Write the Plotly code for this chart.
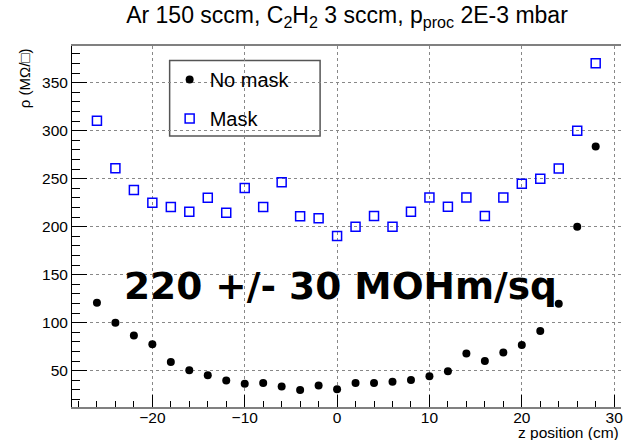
import plotly.graph_objects as go

z_cm = [-26, -24, -22, -20, -18, -16, -14, -12, -10, -8, -6, -4, -2, 0,
        2, 4, 6, 8, 10, 12, 14, 16, 18, 20, 22, 24, 26, 28]
no_mask = [120.7, 100, 86.6, 77.6, 59, 50.3, 45.2, 39.7, 36.2, 37.2, 33.4, 29.7, 34.5, 30.7,
           37.2, 37.2, 38.3, 40.3, 44.1, 49.3, 67.9, 60, 69, 76.6, 91.4, 119.7, 200, 283.4]
mask = [310.4, 260.8, 238.2, 225, 220.5, 215.6, 230.2, 214.6, 240.3, 220.5, 246.2, 210.8, 208.7, 190.3,
        200, 211, 200, 215.5, 230.3, 220.7, 230.3, 211, 230.3, 244.8, 250, 260.7, 300, 370.3]

series_names = ["No mask", "Mask"]
title_text = "Ar 150 sccm, C<sub>2</sub>H<sub>2</sub> 3 sccm, p<sub>proc</sub> 2E-3 mbar"
x_title = "z position (cm)"
y_title = "ρ (MΩ/□)"
big_label = "220 +/- 30 MOHm/sq"

FONT = "Liberation Sans, Arial, sans-serif"

fig = go.Figure()
fig.add_trace(go.Scatter(
    x=z_cm, y=no_mask, mode="markers", name=series_names[0], legendgroup="a",
    marker=dict(symbol="circle", size=8, color="black"),
))
fig.add_trace(go.Scatter(
    x=z_cm, y=mask, mode="markers", name=series_names[1], legendgroup="b",
    marker=dict(symbol="square-open", size=9, color="#0000ff", line=dict(width=1.5, color="#0000ff")),
))

fig.update_layout(
    width=623, height=440,
    margin=dict(l=72, r=0, t=46, b=33),
    plot_bgcolor="white", paper_bgcolor="white",
    font=dict(family=FONT, color="black"),
    title=dict(text=title_text, x=347 / 623, xanchor="center", y=1 - 7 / 440, yanchor="top",
               font=dict(size=23, family=FONT, color="black")),
    showlegend=True,
    legend=dict(x=(170 - 72) / 551, y=1 - (60 - 46) / 361, xanchor="left", yanchor="top",
                bgcolor="rgba(0,0,0,0)", borderwidth=0, tracegroupgap=10,
                font=dict(size=20, family=FONT, color="black"), traceorder="grouped"),
    xaxis=dict(range=[-28.7, 30.74], dtick=10, tick0=0, showgrid=True, gridcolor="#888",
               griddash="dot", gridwidth=1, zeroline=False, ticks="inside", ticklen=12,
               tickcolor="black", tickwidth=1, showline=True, linecolor="#808080", linewidth=2,
               mirror=True, tickfont=dict(size=15.5, family=FONT, color="black"),
               ticklabeloverflow="allow", ticklabelstandoff=-5,
               minor=dict(dtick=2, tick0=0, ticks="inside", ticklen=6, tickcolor="black", showgrid=False)),
    yaxis=dict(range=[12.1, 388.2], dtick=50, tick0=0, showgrid=True, gridcolor="#888",
               griddash="dot", gridwidth=1, zeroline=False, ticks="inside", ticklen=15,
               tickcolor="black", tickwidth=1, showline=True, linecolor="black", linewidth=1,
               tickfont=dict(size=15.5, family=FONT, color="black"),
               minor=dict(dtick=10, tick0=0, ticks="inside", ticklen=8, tickcolor="black", showgrid=False)),
)

# legend box
fig.add_shape(type="rect", xref="paper", yref="paper",
              x0=(170 - 72) / 551, x1=(321 - 72) / 551,
              y0=(406.7 - 135.7) / 361, y1=(406.7 - 60.3) / 361,
              line=dict(color="#555", width=1.5), fillcolor="white", layer="below")

fig.add_annotation(text=y_title, xref="paper", yref="paper", x=-48 / 551, y=1.0,
                   xanchor="center", yanchor="top", textangle=-90, showarrow=False,
                   font=dict(size=15, family=FONT, color="black"))
fig.add_annotation(text=x_title, xref="paper", yref="paper", x=1.0, y=-(432 - 406.7) / 361,
                   xanchor="right", yanchor="middle", showarrow=False,
                   font=dict(size=15.5, family=FONT, color="black"))
fig.add_annotation(text="<b>" + big_label + "</b>", xref="paper", yref="paper",
                   x=(341.5 - 72) / 551, y=(406.7 - 286) / 361, xanchor="center", yanchor="middle",
                   showarrow=False, font=dict(size=37.5, family="DejaVu Sans", color="black"))

fig.write_html("out.html", config={"displayModeBar": False},
               post_script="document.body.style.margin='0px';document.body.style.overflow='hidden';")
